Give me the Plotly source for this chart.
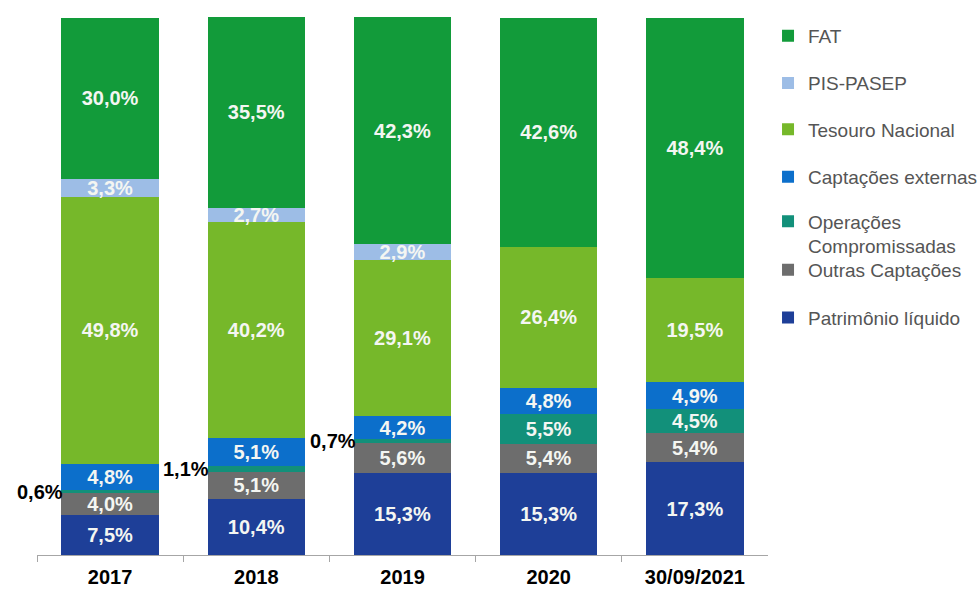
import plotly.graph_objects as go

# Funding structure by year (% of total)
categories = ["2017", "2018", "2019", "2020", "30/09/2021"]

patrimonio_liquido = [7.5, 10.4, 15.3, 15.3, 17.3]
outras_captacoes = [4.0, 5.1, 5.6, 5.4, 5.4]
operacoes_compromissadas = [0.6, 1.1, 0.7, 5.5, 4.5]
captacoes_externas = [4.8, 5.1, 4.2, 4.8, 4.9]
tesouro_nacional = [49.8, 40.2, 29.1, 26.4, 19.5]
pis_pasep = [3.3, 2.7, 2.9, 0.0, 0.0]
fat = [30.0, 35.5, 42.3, 42.6, 48.4]

# Stack order from bottom to top
series = [
    ("Patrimônio líquido", patrimonio_liquido, "#1E3F98"),
    ("Outras Captações", outras_captacoes, "#6D6D6D"),
    ("Operações<br>Compromissadas", operacoes_compromissadas, "#12907A"),
    ("Captações externas", captacoes_externas, "#0C6FCB"),
    ("Tesouro Nacional", tesouro_nacional, "#76B82A"),
    ("PIS-PASEP", pis_pasep, "#9DBDE6"),
    ("FAT", fat, "#129B3A"),
]

SMALL = 2.0  # segments thinner than this get their label outside the bar
FONT = "Liberation Sans, Arial, sans-serif"

# legend slot per series (top to bottom in the legend column), plot-area fractions
legend_y = {
    "FAT": 0.965,
    "PIS-PASEP": 0.877,
    "Tesouro Nacional": 0.791,
    "Captações externas": 0.703,
    "Operações<br>Compromissadas": 0.597,
    "Outras Captações": 0.530,
    "Patrimônio líquido": 0.441,
}

fig = go.Figure()
layout_legends = {}
for k, (name, values, color) in enumerate(series):
    lname = "legend" if k == 0 else f"legend{k + 1}"
    templates = ["" if v < SMALL else "%{y:.1f}%" for v in values]
    fig.add_trace(go.Bar(
        name=name,
        x=categories,
        y=values,
        marker=dict(color=color, line=dict(width=0)),
        texttemplate=templates,
        textposition="inside",
        insidetextanchor="middle",
        textangle=0,
        textfont=dict(family=FONT, size=20, color="#F4F6F2", weight="bold"),
        legend=lname,
        hoverinfo="skip",
    ))
    layout_legends[lname] = dict(
        xref="container", x=0.7837, xanchor="left",
        y=legend_y[name], yanchor="middle",
        valign="top",
        bgcolor="rgba(0,0,0,0)",
        font=dict(family=FONT, size=19, color="#555555"),
    )

# Outside labels for the thin segments, placed beside their stack position
annotations = []
bottom = [0.0] * len(categories)
for name, values, color in series:
    for i, v in enumerate(values):
        if 0 < v < SMALL:
            annotations.append(dict(
                x=i - 0.335, y=bottom[i] + v / 2,
                xref="x", yref="y",
                text=f"{v:.1f}%".replace(".", ","),
                showarrow=False,
                xanchor="right", yanchor="middle",
                xshift=4,
                font=dict(family=FONT, size=20, color="black", weight="bold"),
            ))
        bottom[i] += v

fig.update_layout(
    barmode="stack",
    bargap=0.333,
    width=980, height=589,
    margin=dict(l=37, r=208, t=17, b=34),
    paper_bgcolor="white",
    plot_bgcolor="white",
    separators=",.",
    uniformtext=dict(minsize=20, mode="show"),
    annotations=annotations,
    showlegend=True,
    **layout_legends,
)
fig.update_xaxes(
    type="category",
    range=[-0.5, len(categories) - 0.5],
    automargin=False,
    showline=True, linecolor="#A6A6A6", linewidth=1,
    ticks="outside", tickson="boundaries", ticklen=6, tickcolor="#A6A6A6",
    ticklabelstandoff=4,
    tickfont=dict(family=FONT, size=20, color="black", weight="bold"),
    showgrid=False,
)
fig.update_yaxes(range=[0, 100.1], visible=False, automargin=False)

fig.write_html("out.html")
